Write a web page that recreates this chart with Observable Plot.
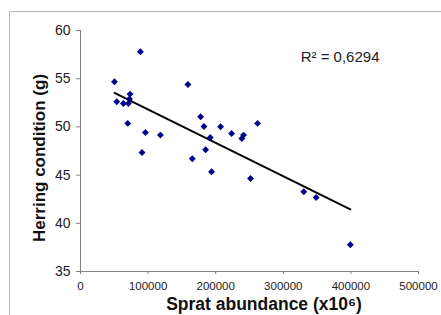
<!DOCTYPE html>
<html>
<head>
<meta charset="utf-8">
<script src="https://cdn.jsdelivr.net/npm/d3@7"></script>
<script src="https://cdn.jsdelivr.net/npm/@observablehq/plot@0.6"></script>
<style>
  html, body { margin: 0; padding: 0; background: #fff; }
  #wrap { position: relative; width: 441px; height: 315px; overflow: hidden; }
  #border { position: absolute; left: 9px; top: 11px; width: 500px; height: 400px;
            border-top: 1px solid #b8b8b8; border-left: 1px solid #b8b8b8; pointer-events: none; }
  svg { display: block; }
</style>
</head>
<body>
<div id="wrap"><div id="border"></div></div>
<script>
const spratAbundance = [50200, 88600, 53600, 63500, 70900, 72400, 73300, 69900, 91000, 96000,
  118200, 158900, 165400, 177700, 182600, 185100, 192000, 193900, 207200, 223500,
  238700, 241200, 261900, 251500, 330300, 348600, 399200];
const herringCondition = [54.68, 57.79, 52.61, 52.43, 52.43, 52.89, 53.40, 50.36, 47.35, 49.42,
  49.15, 54.40, 46.70, 51.05, 50.04, 47.63, 48.90, 45.35, 50.01, 49.32,
  48.80, 49.15, 50.36, 44.65, 43.27, 42.68, 37.78];
const xTicks = [0, 100000, 200000, 300000, 400000, 500000];
const yTicks = [35, 40, 45, 50, 55, 60];
const r2Label = "R² = 0,6294";
const xTitle = "Sprat abundance (x10⁶)";
const yTitle = "Herring condition (g)";

const data = spratAbundance.map((x, i) => ({x, y: herringCondition[i]}));

const chart = Plot.plot({
  width: 441,
  height: 315,
  marginLeft: 80,
  marginRight: 23,
  marginTop: 30,
  marginBottom: 44,
  style: {fontFamily: "'Liberation Sans', Arial, sans-serif", background: "transparent", color: "#222"},
  x: {domain: [0, 500000]},
  y: {domain: [35, 60]},
  marks: [
    Plot.axisY({ticks: yTicks, tickSize: 4, tickPadding: 6, fontSize: 14, stroke: "#808080", tickFormat: d => String(d), label: null}),
    Plot.axisX({ticks: xTicks, tickSize: 3, tickPadding: 7, fontSize: 11.5, stroke: "#808080", tickFormat: d => String(d), label: null}),
    Plot.ruleX([0], {stroke: "#808080"}),
    Plot.ruleY([35], {stroke: "#808080"}),
    Plot.linearRegressionY(data, {x: "x", y: "y", stroke: "#000", strokeWidth: 2, ci: 0}),
    Plot.dot(data, {x: "x", y: "y", symbol: "diamond2", r: 3.1, fill: "#00008c", stroke: "none"}),
    Plot.text([r2Label], {text: d => d, frameAnchor: "top-right", textAnchor: "end", lineAnchor: "middle", dx: -39, dy: 27, fontSize: 15, fill: "#222"}),
    Plot.text([xTitle], {text: d => d, frameAnchor: "bottom", textAnchor: "middle", lineAnchor: "middle", dx: 14.5, dy: 33, fontSize: 17.5, fontWeight: "bold", fill: "#111"}),
    Plot.text([yTitle], {text: d => d, frameAnchor: "left", textAnchor: "middle", rotate: -90, lineAnchor: "middle", dx: -41, dy: 7, fontSize: 17, fontWeight: "bold", fill: "#111"})
  ]
});
document.getElementById("wrap").prepend(chart);
</script>
</body>
</html>
